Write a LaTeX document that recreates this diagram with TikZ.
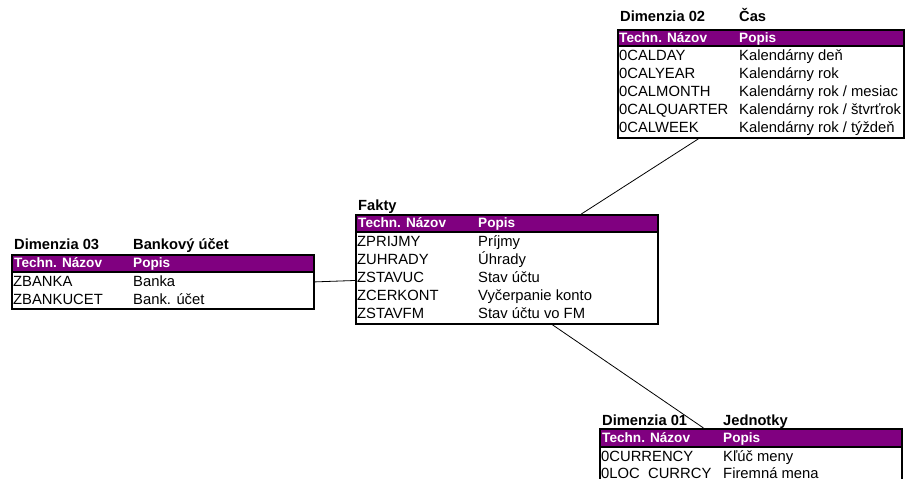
\documentclass[tikz,border=0pt]{standalone}
\usepackage{fontspec}
\setmainfont{Liberation Sans}
\usetikzlibrary{calc}
\definecolor{headpurple}{RGB}{128,0,128}
\tikzset{
  tbox/.style={draw, line width=1.8pt, anchor=north west, inner sep=0pt},
  thead/.style={draw, line width=1.8pt, fill=headpurple, anchor=north west, inner sep=0pt},
  cell/.style={anchor=west, inner sep=0pt, text height=10.5pt, text depth=0pt, font=\fontsize{14.8}{16}\selectfont},
  hcell/.style={cell, text=white, font=\fontsize{13.6}{16}\selectfont\bfseries},
  title/.style={cell, font=\fontsize{14.7}{16}\selectfont\bfseries},
  link/.style={line width=0.8pt},
}

\begin{document}
\begin{tikzpicture}[x=1pt, y=-1pt]
    \useasboundingbox (0,0) rectangle (905,479);

    % Dimenzia 02 - Cas
    \node[tbox, minimum width=286pt, minimum height=108pt] (dimcas) at (617,29) {};
    \node[thead, minimum width=286pt, minimum height=16pt] (dimcashead) at (617,29) {};
    \node[title] (dimcast) at (620,16) {Dimenzia 02};
    \node[title] (dimcasn) at (739,16) {Čas};
    \node[hcell] (dimcash1) at (619,37) {Techn. Názov};
    \node[hcell] (dimcash2) at (739,37) {Popis};
    \node[cell] (calday) at (619,55) {0CALDAY};
    \node[cell] (caldayp) at (739,55) {Kalendárny deň};
    \node[cell] (calyear) at (619,73) {0CALYEAR};
    \node[cell] (calyearp) at (739,73) {Kalendárny rok};
    \node[cell] (calmonth) at (619,91) {0CALMONTH};
    \node[cell] (calmonthp) at (739,91) {Kalendárny rok / mesiac};
    \node[cell] (calquarter) at (619,109) {0CALQUARTER};
    \node[cell] (calquarterp) at (739,109) {Kalendárny rok / štvrťrok};
    \node[cell] (calweek) at (619,127) {0CALWEEK};
    \node[cell] (calweekp) at (739,127) {Kalendárny rok / týždeň};

    % Fakty
    \node[tbox, minimum width=302pt, minimum height=109pt] (fakty) at (355,214) {};
    \node[thead, minimum width=302pt, minimum height=17pt] (faktyhead) at (355,214) {};
    \node[title] (faktyt) at (358,205) {Fakty};
    \node[hcell] (faktyh1) at (358,222.5) {Techn. Názov};
    \node[hcell] (faktyh2) at (478,222.5) {Popis};
    \node[cell] (zprijmy) at (357,241) {ZPRIJMY};
    \node[cell] (zprijmyp) at (478,241) {Príjmy};
    \node[cell] (zuhrady) at (357,259) {ZUHRADY};
    \node[cell] (zuhradyp) at (478,259) {Úhrady};
    \node[cell] (zstavuc) at (357,277) {ZSTAVUC};
    \node[cell] (zstavucp) at (478,277) {Stav účtu};
    \node[cell] (zcerkont) at (357,295) {ZCERKONT};
    \node[cell] (zcerkontp) at (478,295) {Vyčerpanie konto};
    \node[cell] (zstavfm) at (357,313) {ZSTAVFM};
    \node[cell] (zstavfmp) at (478,313) {Stav účtu vo FM};

    % Dimenzia 03 - Bankovy ucet
    \node[tbox, minimum width=302pt, minimum height=54pt] (dimbanka) at (11,254) {};
    \node[thead, minimum width=302pt, minimum height=17pt] (dimbankahead) at (11,254) {};
    \node[title] (dimbankat) at (14,244) {Dimenzia 03};
    \node[title] (dimbankan) at (133,244) {Bankový účet};
    \node[hcell] (dimbankah1) at (14,262.5) {Techn. Názov};
    \node[hcell] (dimbankah2) at (133,262.5) {Popis};
    \node[cell] (zbanka) at (13,281) {ZBANKA};
    \node[cell] (zbankap) at (133,281) {Banka};
    \node[cell] (zbankucet) at (13,299) {ZBANKUCET};
    \node[cell] (zbankucetp) at (133,299) {Bank. účet};

    % Dimenzia 01 - Jednotky
    \node[tbox, minimum width=302pt, minimum height=64pt] (dimjedn) at (599,428) {};
    \node[thead, minimum width=302pt, minimum height=18pt] (dimjednhead) at (599,428) {};
    \node[title] (dimjednt) at (602,420) {Dimenzia 01};
    \node[title] (dimjednn) at (723,420) {Jednotky};
    \node[hcell] (dimjednh1) at (602,437) {Techn. Názov};
    \node[hcell] (dimjednh2) at (723,437) {Popis};
    \node[cell] (currency) at (601,456) {0CURRENCY};
    \node[cell] (currencyp) at (723,456) {Kľúč meny};
    \node[cell] (loccurr) at (601,473) {0LOC\_CURRCY};
    \node[cell] (loccurrp) at (723,473) {Firemná mena};

    % spojenia
    \draw[link] (dimbanka.east) -- ($(fakty.north west)!0.6!(fakty.south west)$);
    \draw[link] ($(fakty.north west)!0.745!(fakty.north east)$) -- ($(dimcas.south west)!0.283!(dimcas.south east)$);
    \draw[link] ($(fakty.south west)!0.65!(fakty.south east)$) -- ($(dimjedn.north west)!0.344!(dimjedn.north east)$);
\end{tikzpicture}
\end{document}
